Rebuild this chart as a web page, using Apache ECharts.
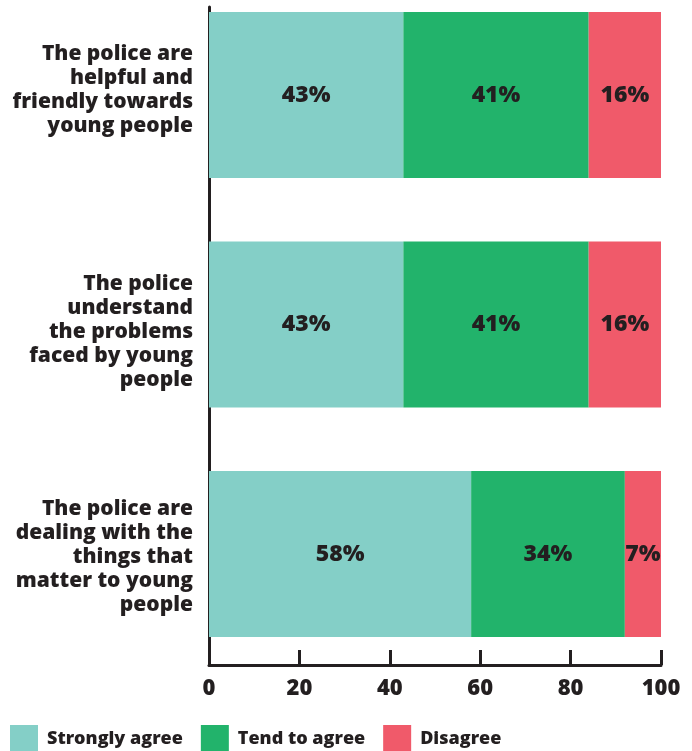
<!DOCTYPE html>
<html>
<head>
<meta charset="utf-8">
<script src="https://cdn.jsdelivr.net/npm/echarts@6/dist/echarts.min.js"></script>
<style>
html,body{margin:0;padding:0;background:#fff;overflow:hidden;}
#wrap{position:relative;width:692px;height:751px;overflow:hidden;}
#chart{position:absolute;left:0;top:-30px;width:692px;height:781px;}
</style>
</head>
<body>
<div id="wrap"><div id="chart"></div></div>
<script>
const categories = [
  'The police are\nhelpful and\nfriendly towards\nyoung people',
  'The police\nunderstand\nthe problems\nfaced by young\npeople',
  'The police are\ndealing with the\nthings that\nmatter to young\npeople'
];
const seriesNames = ['Strongly agree', 'Tend to agree', 'Disagree'];
const stronglyAgree = [43, 43, 58];
const tendToAgree = [41, 41, 34];
const disagree = [16, 16, 8];
const stronglyAgreeLabels = ['43%', '43%', '58%'];
const tendToAgreeLabels = ['41%', '41%', '34%'];
const disagreeLabels = ['16%', '16%', '7%'];
const xTicks = [0, 20, 40, 60, 80, 100];
const colors = ['#84cfc7', '#22b36b', '#f05a6a'];

const TXT = '#231f20';
const FONT = '"Open Sans", sans-serif';
const OFF = 30; // canvas shifted up by this many px
// spacer heights above / below each category label block (style nudges)
const labelSpacers = [[0, 10], [16, 0], [6, 0]];

const chart = echarts.init(document.getElementById('chart'), null, {renderer: 'canvas'});

const baseLbl = {color: TXT, fontFamily: FONT, fontWeight: 800, fontSize: 21, lineHeight: 24, align: 'right'};
const rich = {n: Object.assign({}, baseLbl)};
labelSpacers.forEach(([t, b], i) => {
  if (t) rich['t' + i] = {fontSize: 1, lineHeight: t, color: 'rgba(0,0,0,0)'};
  if (b) rich['b' + i] = {fontSize: 1, lineHeight: b, color: 'rgba(0,0,0,0)'};
});

function catFormatter(val, idx) {
  const lines = val.split('\n').map(ln => '{n|' + ln + '}');
  const [t, b] = labelSpacers[idx] || [0, 0];
  if (t) lines.unshift('{t' + idx + '| }');
  if (b) lines.push('{b' + idx + '| }');
  return lines.join('\n');
}

function mkSeries(name, values, labels, color) {
  return {
    name: name,
    type: 'bar',
    stack: 'total',
    barWidth: 166,
    xAxisIndex: 0,
    yAxisIndex: 0,
    itemStyle: {color: color},
    label: {
      show: true,
      position: 'inside',
      color: TXT,
      fontFamily: FONT,
      fontWeight: 800,
      fontSize: 23,
      formatter: p => labels[p.dataIndex]
    },
    emphasis: {disabled: true},
    data: values
  };
}

chart.setOption({
  animation: false,
  textStyle: {fontFamily: FONT},
  grid: [
    {left: 209, right: 31, top: OFF - 19.75, bottom: 82.25, containLabel: false},
    {left: 209, right: 31, top: OFF + 7, bottom: 86, containLabel: false}
  ],
  xAxis: [
    {
      gridIndex: 0,
      type: 'value',
      offset: -3.75,
      min: 0, max: 100, interval: 20,
      axisLine: {show: true, lineStyle: {color: TXT, width: 3}},
      axisTick: {show: true, inside: true, length: 15, lineStyle: {color: TXT, width: 3}},
      splitLine: {show: false},
      axisLabel: {
        color: TXT, fontFamily: FONT, fontWeight: 800, fontSize: 22, margin: 13,
        formatter: v => xTicks.includes(v) ? String(v) : ''
      }
    },
    {gridIndex: 1, type: 'value', show: false, min: 0, max: 100}
  ],
  yAxis: [
    {
      gridIndex: 0,
      type: 'category',
      inverse: true,
      data: categories,
      axisLine: {show: false},
      axisTick: {show: false},
      axisLabel: {
        color: TXT, fontFamily: FONT, fontWeight: 800, fontSize: 21,
        lineHeight: 24, align: 'right', margin: 16,
        formatter: catFormatter,
        rich: rich
      }
    },
    {
      gridIndex: 1,
      type: 'category',
      data: [''],
      axisLine: {show: true, lineStyle: {color: TXT, width: 3}},
      axisTick: {show: false},
      axisLabel: {show: false}
    }
  ],
  legend: {
    left: 10,
    top: OFF + 725,
    padding: 0,
    itemWidth: 28,
    itemHeight: 28,
    itemGap: 18,
    icon: 'rect',
    selectedMode: false,
    data: seriesNames,
    textStyle: {color: TXT, fontFamily: FONT, fontWeight: 800, fontSize: 18, padding: [0, 0, 0, 4]}
  },
  series: [
    mkSeries(seriesNames[0], stronglyAgree, stronglyAgreeLabels, colors[0]),
    mkSeries(seriesNames[1], tendToAgree, tendToAgreeLabels, colors[1]),
    mkSeries(seriesNames[2], disagree, disagreeLabels, colors[2])
  ]
});
</script>
</body>
</html>
